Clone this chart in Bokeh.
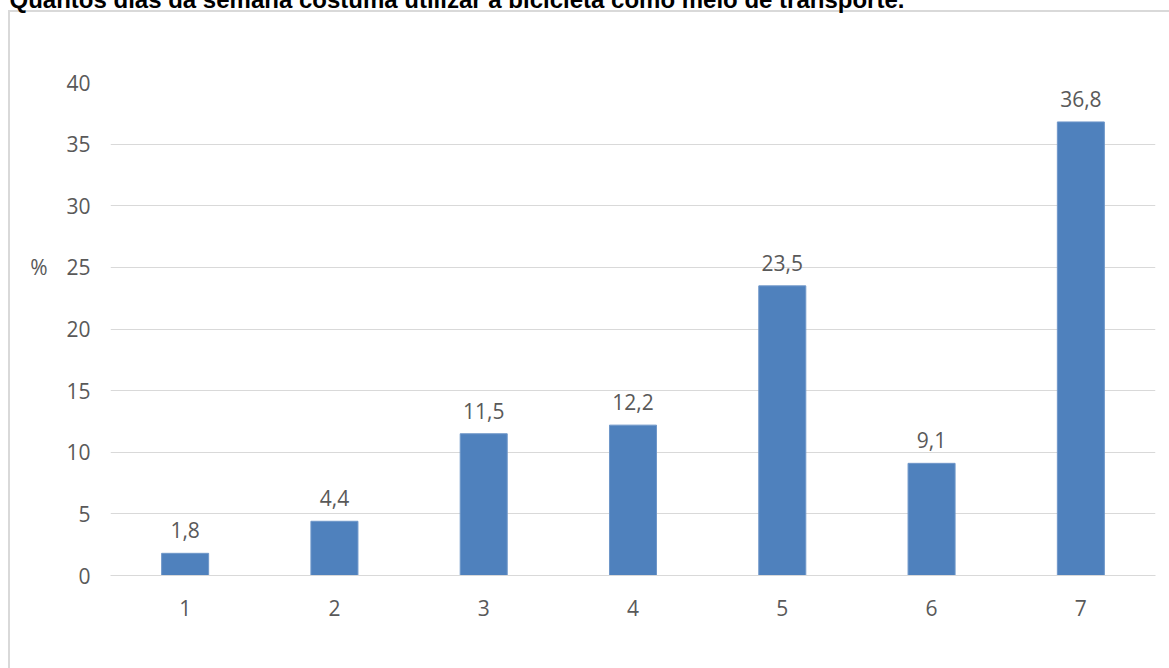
from bokeh.plotting import figure
from bokeh.models import Range1d, FixedTicker, Title, LinearAxis, ColumnDataSource
from bokeh.core.properties import value
from bokeh.embed import file_html
from bokeh.resources import INLINE

title_text = "Quantos dias da semana costuma utilizar a bicicleta como meio de transporte."
categories = ["1", "2", "3", "4", "5", "6", "7"]
percentages = [1.8, 4.4, 11.5, 12.2, 23.5, 9.1, 36.8]
y_ticks = [0, 5, 10, 15, 20, 25, 30, 35, 40]
y_axis_label = "%"

labels = [f"{v:.1f}".replace(".", ",") for v in percentages]
src = ColumnDataSource(dict(cat=categories, val=percentages, lab=labels))

FONT = "Open Sans"
TXT = "#595959"
GRID = "#d9d9d9"
BAR = "#4F81BD"
FS = "21px"
SHIFT = 88  # canvas is lifted so that the title is clipped at the window top

p = figure(x_range=categories, y_range=Range1d(0, 40), width=1169, height=668 + SHIFT,
           output_backend="svg", toolbar_location=None,
           min_border_left=110, min_border_right=14, min_border_top=82 + SHIFT,
           min_border_bottom=93)
p.margin = (-SHIFT, 0, 0, 0)
p.outline_line_color = None
p.background_fill_color = None
p.border_fill_color = None
p.styles = {
    "background-color": "white",
    "background-image": "linear-gradient(#d9d9d9, #d9d9d9), linear-gradient(#d9d9d9, #d9d9d9)",
    "background-size": "2px 100%, 100% 2px",
    "background-position": f"8px {10 + SHIFT}px, 8px {10 + SHIFT}px",
    "background-repeat": "no-repeat",
}

p.vbar(x="cat", top="val", width=0.315, source=src, fill_color=BAR,
       line_color="#6f97c9", line_width=1)
p.text(x="cat", y="val", text="lab", source=src, text_align="center",
       text_baseline="bottom", y_offset=-15, text_font=value(FONT),
       text_font_size=FS, text_color=TXT)

p.xgrid.grid_line_color = None
p.ygrid.grid_line_color = GRID
p.ygrid.grid_line_width = 1
p.yaxis.ticker = FixedTicker(ticks=y_ticks)
p.yaxis.axis_line_color = None
p.yaxis.major_tick_line_color = None
p.yaxis.minor_tick_line_color = None
p.yaxis.major_label_standoff = 14
p.xaxis.axis_line_color = GRID
p.xaxis.major_tick_line_color = None
p.xaxis.minor_tick_line_color = None
p.xaxis.major_label_standoff = 18
for ax in (p.xaxis, p.yaxis):
    ax.major_label_text_font = FONT
    ax.major_label_text_font_size = FS
    ax.major_label_text_color = TXT

# "%" sits at the level of 25: the label is a block whose first line is the "%"
pct_axis = LinearAxis(ticker=FixedTicker(ticks=[]),
                      axis_label=y_axis_label + "\n " * 5,
                      axis_label_orientation="horizontal",
                      axis_label_standoff=16, axis_label_text_font=FONT,
                      axis_label_text_font_size=FS, axis_label_text_font_style="normal",
                      axis_label_text_line_height=0.88,
                      axis_label_text_color=TXT, axis_line_color=None,
                      major_tick_line_color=None, minor_tick_line_color=None,
                      major_label_text_font_size="0px")
p.add_layout(pct_axis, "left")

p.add_layout(Title(text=title_text, align="left", offset=-101, standoff=140,
                   text_font="Liberation Sans", text_font_style="bold",
                   text_font_size="24px", text_color="black"), "above")

open("out.html", "w").write(file_html(p, INLINE))
